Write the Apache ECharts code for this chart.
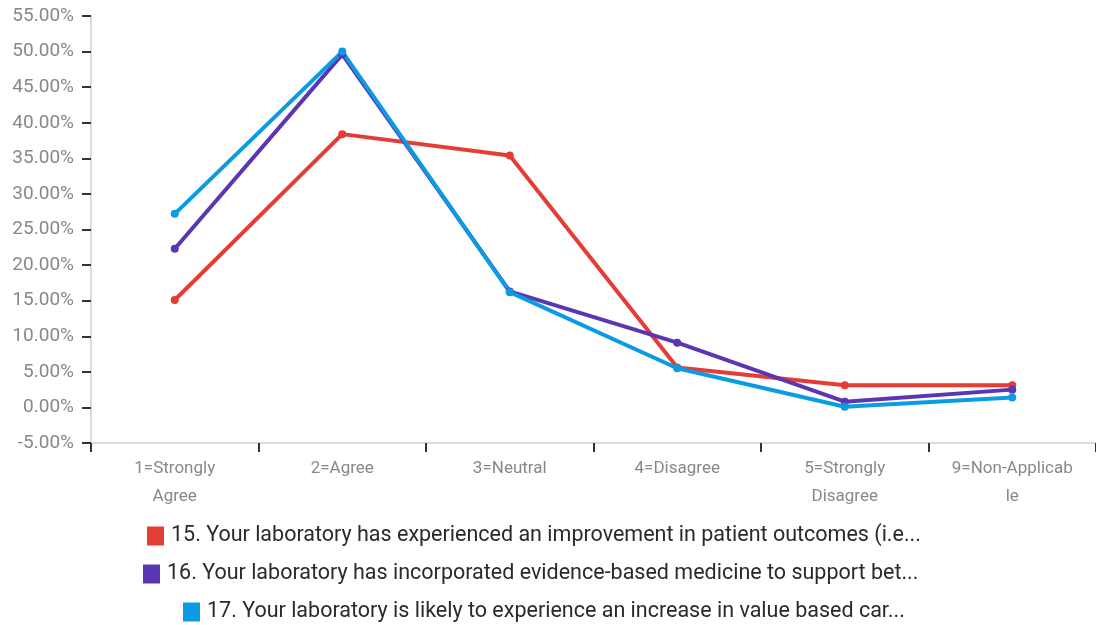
<!DOCTYPE html>
<html><head><meta charset="utf-8">
<script src="https://cdn.jsdelivr.net/npm/echarts@6/dist/echarts.min.js"></script>
<style>html,body{margin:0;padding:0;background:#fff}#c{width:1096px;height:625px}</style>
</head><body><div id="c"></div>
<script>
const categories = ['1=Strongly\nAgree', '2=Agree', '3=Neutral', '4=Disagree', '5=Strongly\nDisagree', '9=Non-Applicab\nle'];
const seriesNames = [
  '15. Your laboratory has experienced an improvement in patient outcomes (i.e...',
  '16. Your laboratory has incorporated evidence-based medicine to support bet...',
  '17. Your laboratory is likely to experience an increase in value based car...'
];
const q15 = [15.1, 38.4, 35.4, 5.6, 3.1, 3.1];
const q16 = [22.3, 49.6, 16.3, 9.1, 0.8, 2.5];
const q17 = [27.2, 50.0, 16.2, 5.5, 0.1, 1.4];
const colors = ['#e53c35', '#5b36b2', '#0a9be3'];
const yTicks = {min: -5, max: 55, interval: 5};

const chart = echarts.init(document.getElementById('c'));
const dataSets = [q15, q16, q17];
const legendTops = [525, 563, 601];
const legendLefts = [147, 143, 183];
chart.setOption({
  animation: false,
  color: colors,
  grid: {left: 91, top: 16, bottom: 182, right: -3},
  legend: seriesNames.map((n, i) => ({
    data: [n], left: legendLefts[i], top: legendTops[i], icon: 'rect', padding: 0,
    itemWidth: 17, itemHeight: 19, itemGap: 6,
    textStyle: {fontFamily: 'Roboto', fontSize: 21.5, color: '#2a2a2a', padding: [0, 0, 0, 2]},
    selectedMode: false
  })),
  xAxis: {
    type: 'category', data: categories, boundaryGap: true,
    axisLine: {onZero: false, lineStyle: {color: '#dcdcdc', width: 2}},
    axisTick: {show: true, length: 9, lineStyle: {color: '#333', width: 2}},
    axisLabel: {color: '#888', fontFamily: 'Roboto', fontSize: 17, lineHeight: 28, margin: 12, interval: 0}
  },
  yAxis: {
    type: 'value', min: yTicks.min, max: yTicks.max, interval: yTicks.interval,
    splitLine: {show: false},
    axisLine: {show: true, lineStyle: {color: '#d0d0d0', width: 1.5}},
    axisTick: {show: true, length: 9, lineStyle: {color: '#333', width: 2}},
    axisLabel: {color: '#888', fontFamily: 'Roboto', fontSize: 19, margin: 17,
      formatter: v => v.toFixed(2) + '%'}
  },
  series: seriesNames.map((n, i) => ({
    name: n, type: 'line', data: dataSets[i],
    symbol: 'circle', symbolSize: 8,
    lineStyle: {width: 4}, itemStyle: {color: colors[i]}
  }))
});
</script></body></html>
